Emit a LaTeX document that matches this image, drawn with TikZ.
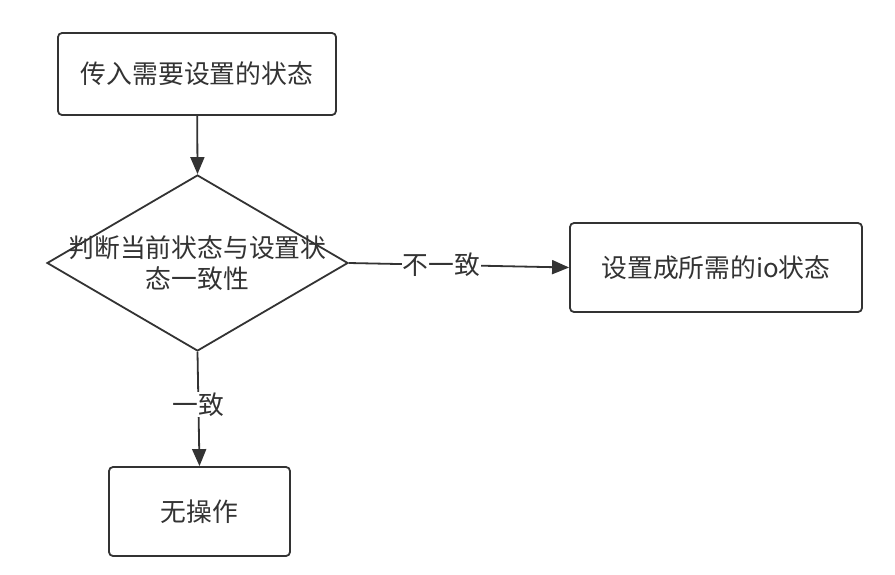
\documentclass[tikz,border=0pt]{standalone}
\usepackage{fontspec}
\setmainfont{Noto Sans CJK SC}
\usetikzlibrary{arrows.meta,shapes.geometric}
\definecolor{lc}{HTML}{333333}
\definecolor{tc}{HTML}{333333}
\begin{document}
\begin{tikzpicture}[x=1pt,y=-1pt,
  every node/.style={font=\fontsize{25.8}{31}\selectfont, text=tc},
  box/.style={draw=lc, line width=1.8pt, rounded corners=4pt, fill=white, inner sep=0pt, align=center},
  dia/.style={draw=lc, line width=1.8pt, diamond, inner sep=0pt, fill=white},
  txt/.style={align=center, inner sep=0pt},
  arr/.style={draw=lc, line width=1.8pt, -{Triangle[length=17pt,width=14pt]}},
  lab/.style={fill=white, inner sep=1pt}]
\useasboundingbox[fill=white] (0,0) rectangle (895,574);
\node[box, minimum width=278pt, minimum height=82pt] (a) at (197,74) {传入需要设置的状态};
\node[dia, minimum width=301pt, minimum height=176pt] (d) at (197.5,263) {};
\node[txt] (dt) at (197.5,263) {判断当前状态与设置状\\态一致性};
\node[box, minimum width=292pt, minimum height=89pt] (r) at (716,267.5) {设置成所需的io状态};
\node[box, minimum width=181pt, minimum height=89pt] (b) at (199.5,511.5) {无操作};
\draw[arr] (a) -- (d.north);
\draw[arr] (d.east) -- node[lab, pos=0.42] (l1) {不一致} (r.west);
\draw[arr] (d.south) -- node[lab, pos=0.46] (l2) {一致} (b.north);
\end{tikzpicture}
\end{document}
